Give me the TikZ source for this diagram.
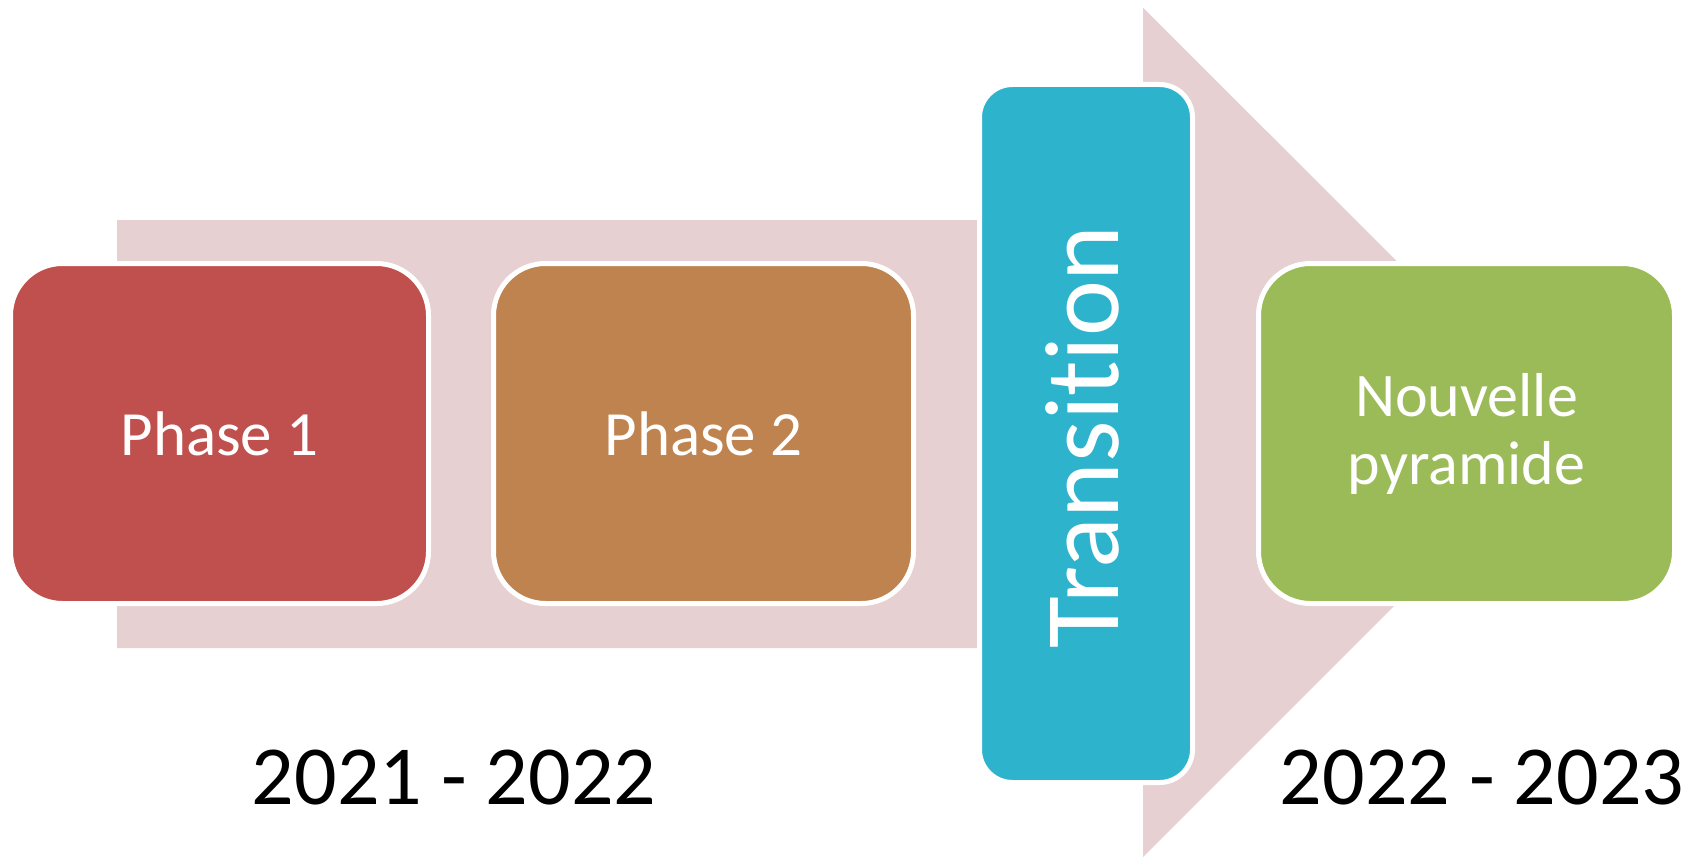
\documentclass[tikz,border=0pt]{standalone}
\usepackage{fontspec}
\setmainfont[Ligatures={NoCommon,NoRare,NoContextual}]{Carlito}
\definecolor{arrowpink}{HTML}{E7D0D1}
\definecolor{phaseone}{HTML}{C0504D}
\definecolor{phasetwo}{HTML}{BF8350}
\definecolor{transcyan}{HTML}{2EB3CD}
\definecolor{newgreen}{HTML}{9BBB59}
\tikzset{
  stagebox/.style={draw=white, line width=5pt, rounded corners=52pt, inner sep=0pt,
    text=white, align=center},
  yearlabel/.style={anchor=base, inner sep=0pt, text=black, font=\fontsize{84}{90}\selectfont}
}
\begin{document}
\begin{tikzpicture}[x=1pt, y=-1pt]
\useasboundingbox (0,0) rectangle (1701,859);
% big background arrow
\fill[arrowpink] (117,220) -- (1143,220) -- (1143,7.6) -- (1568,432.3) -- (1143,857) -- (1143,648) -- (117,648) -- cycle;
% stages
\node[stagebox, fill=phaseone, minimum width=418pt, minimum height=340pt,
  font=\fontsize{63}{68}\selectfont] (p1) at (219.5,433.5) {Phase 1};
\node[stagebox, fill=phasetwo, minimum width=420pt, minimum height=340pt,
  font=\fontsize{63}{68}\selectfont] (p2) at (703.5,433.5) {Phase 2};
\node[stagebox, rounded corners=33pt, fill=transcyan, minimum width=213pt, minimum height=698pt] (tr) at (1086,433.5) {};
\node[rotate=90, text=white, inner sep=0pt, font=\fontsize{106}{110}\selectfont] (trtext) at (1082,437) {Transition};
\node[stagebox, fill=newgreen, minimum width=416pt, minimum height=340pt,
  font=\fontsize{62}{68}\selectfont] (np) at (1466.5,433.5) {Nouvelle\\pyramide};
% years
\node[yearlabel] (y1) at (454,804) {2021 - 2022};
\node[yearlabel] (y2) at (1482,804) {2022 - 2023};
\end{tikzpicture}
\end{document}
